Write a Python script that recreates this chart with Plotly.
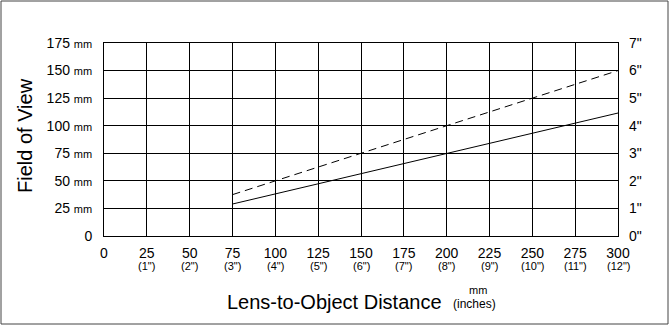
import plotly.graph_objects as go

# Lens-to-object distance (mm) and the resulting field of view (mm)
distance_mm = [75, 300]
fov_solid_mm = [29, 111.5]
fov_dashed_mm = [37.5, 150]

x_ticks_mm = [0, 25, 50, 75, 100, 125, 150, 175, 200, 225, 250, 275, 300]
x_ticks_in = ["", "1\"", "2\"", "3\"", "4\"", "5\"", "6\"", "7\"", "8\"", "9\"", "10\"", "11\"", "12\""]
y_ticks_mm = [0, 25, 50, 75, 100, 125, 150, 175]
y_ticks_in = [0, 1, 2, 3, 4, 5, 6, 7]

FONT = "Liberation Sans, Arial, sans-serif"

# plot-area geometry in pixels
L, R, T, B = 104, 52, 43, 90
W, H = 670, 326
PW, PH = W - L - R, H - T - B


def px_x(px):
    return (px - L) / PW


def px_y(py):
    return (H - B - py) / PH


y_text = []
for mm in y_ticks_mm:
    if mm == 0:
        y_text.append("0")
    else:
        y_text.append(f"{mm} <span style='font-size:11px'>mm</span>")

fig = go.Figure()
fig.add_trace(go.Scatter(x=distance_mm, y=fov_solid_mm, mode="lines",
                         line=dict(color="black", width=1), showlegend=False))
fig.add_trace(go.Scatter(x=distance_mm, y=fov_dashed_mm, mode="lines",
                         line=dict(color="black", width=1, dash="8px,5px"), showlegend=False))
# invisible trace to carry the inch axis on the right
fig.add_trace(go.Scatter(x=[0], y=[0], yaxis="y2", mode="markers",
                         marker=dict(opacity=0), showlegend=False, hoverinfo="skip"))

annotations = [
    dict(text="Field of View", xref="paper", yref="paper",
         x=px_x(25), y=px_y(136), xanchor="center", yanchor="middle",
         textangle=-90, showarrow=False, font=dict(size=20)),
    dict(text="Lens-to-Object Distance", xref="paper", yref="paper",
         x=px_x(225), y=px_y(302), xanchor="left", yanchor="middle",
         showarrow=False, font=dict(size=20)),
    dict(text="mm", xref="paper", yref="paper",
         x=px_x(478), y=px_y(290), xanchor="center", yanchor="middle",
         showarrow=False, font=dict(size=11)),
    dict(text="(inches)", xref="paper", yref="paper",
         x=px_x(474), y=px_y(304), xanchor="center", yanchor="middle",
         showarrow=False, font=dict(size=12)),
]
# inch equivalents under the mm tick labels
for mm, inch in zip(x_ticks_mm, x_ticks_in):
    if inch:
        annotations.append(dict(text=f"({inch})", xref="x", yref="paper",
                                x=mm, y=px_y(265.5), xanchor="center", yanchor="middle",
                                showarrow=False, font=dict(size=11)))

fig.update_layout(
    width=W, height=H,
    margin=dict(l=L, r=R, t=T, b=B),
    paper_bgcolor="white", plot_bgcolor="white",
    font=dict(family=FONT, color="black", size=14),
    xaxis=dict(range=[0, 300], tickvals=x_ticks_mm, ticktext=[str(v) for v in x_ticks_mm],
               showgrid=True, gridcolor="black", gridwidth=1,
               showline=True, linecolor="black", linewidth=1, mirror=True,
               zeroline=False, ticks="", tickfont=dict(size=14),
               ticklabelstandoff=4),
    yaxis=dict(range=[0, 175], tickvals=y_ticks_mm, ticktext=y_text,
               showgrid=True, gridcolor="black", gridwidth=1,
               showline=True, linecolor="black", linewidth=1, mirror=True,
               zeroline=False, ticks="", tickfont=dict(size=14),
               ticklabelstandoff=8),
    yaxis2=dict(range=[0, 7], overlaying="y", side="right",
                tickvals=y_ticks_in, ticktext=[f"{v}\"" for v in y_ticks_in],
                showgrid=False, zeroline=False, ticks="", tickfont=dict(size=14),
                ticklabelstandoff=10),
    shapes=[dict(type="rect", xref="paper", yref="paper",
                 x0=px_x(1), x1=px_x(668), y0=px_y(324), y1=px_y(1),
                 line=dict(color="#444444", width=1))],
    annotations=annotations,
)

fig.write_html("out.html")
